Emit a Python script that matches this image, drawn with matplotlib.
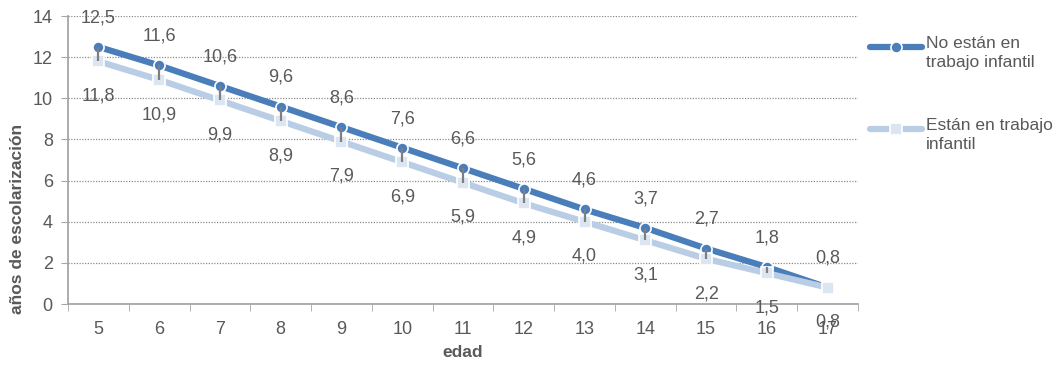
import matplotlib
matplotlib.use("Agg")
import matplotlib.pyplot as plt
from matplotlib.lines import Line2D

# edades y años de escolarización promedio
edades = [5, 6, 7, 8, 9, 10, 11, 12, 13, 14, 15, 16, 17]
no_trabajan = [12.5, 11.6, 10.6, 9.6, 8.6, 7.6, 6.6, 5.6, 4.6, 3.7, 2.7, 1.8, 0.8]
trabajan = [11.8, 10.9, 9.9, 8.9, 7.9, 6.9, 5.9, 4.9, 4.0, 3.1, 2.2, 1.5, 0.8]
y_ticks = [0, 2, 4, 6, 8, 10, 12, 14]

AZUL = "#4a7ebb"
CELESTE = "#b9cde5"
CELESTE_MK = "#dce6f2"
GRIS = "#595959"
EJE = "#a6a6a6"
FS = 13

plt.rcParams["font.family"] = ["Liberation Sans", "DejaVu Sans"]

fig = plt.figure(figsize=(10.58, 3.65), dpi=100)
ax = fig.add_axes([0.0643, 0.167, 0.7467, 0.789])

x = list(range(len(edades)))

ax.plot(x, no_trabajan, color=AZUL, lw=4.5, marker="o", ms=8,
        mfc=AZUL, mec="white", mew=1.2, solid_capstyle="round", zorder=3)
ax.plot(x, trabajan, color=CELESTE, lw=4.5, marker="s", ms=8.5,
        mfc=CELESTE_MK, mec="white", mew=1.2, solid_capstyle="round", zorder=4)
# líneas de máximo y mínimo entre ambas series
ax.vlines(x, trabajan, no_trabajan, color="#7f7f7f", lw=1.6, zorder=5)

for xi, a, b in zip(x, no_trabajan, trabajan):
    ax.annotate(f"{a:.1f}".replace(".", ","), (xi, a), xytext=(0, 21),
                textcoords="offset points", ha="center", va="center",
                fontsize=FS, color=GRIS, zorder=6)
    ax.annotate(f"{b:.1f}".replace(".", ","), (xi, b), xytext=(0, -25),
                textcoords="offset points", ha="center", va="center",
                fontsize=FS, color=GRIS, zorder=6)

ax.set_xlim(-0.5, len(edades) - 0.5)
ax.set_ylim(0, 14)
ax.set_yticks(y_ticks)
ax.set_xticks(x)
ax.set_xticklabels([str(e) for e in edades])
ax.set_xticks([i - 0.5 for i in range(len(edades) + 1)], minor=True)
ax.tick_params(axis="x", which="major", length=0, pad=12, labelsize=FS, labelcolor=GRIS)
ax.tick_params(axis="x", which="minor", length=5, color=EJE, direction="out")
ax.tick_params(axis="y", length=5, color=EJE, labelsize=FS, labelcolor=GRIS, pad=6)

ax.grid(axis="y", color="#8c8c8c", ls=(0, (1, 1.2)), lw=0.9)
ax.set_axisbelow(True)
for s in ("top", "right"):
    ax.spines[s].set_visible(False)
for s in ("left", "bottom"):
    ax.spines[s].set_color(EJE)
    ax.spines[s].set_linewidth(1.3)

ax.set_xlabel("edad", fontsize=12.5, fontweight="bold", color=GRIS, labelpad=5)
fig.text(18 / 1058, 1 - 219 / 365, "años de escolarización", rotation=90,
         ha="center", va="center", fontsize=12.5, fontweight="bold", color=GRIS)

# leyenda a la derecha
def entrada(y, color, mfc, marker, texto):
    fig.add_artist(Line2D([0.8225, 0.8715], [y, y], transform=fig.transFigure,
                          color=color, lw=4.5, solid_capstyle="round"))
    fig.add_artist(Line2D([0.847], [y], transform=fig.transFigure, color=color,
                          marker=marker, ms=8, mfc=mfc, mec="white", mew=1.2, lw=0))
    fig.text(0.8755, y + 0.031, texto, ha="left", va="top", fontsize=12.5,
             color=GRIS, linespacing=1.35, transform=fig.transFigure)

entrada(1 - 47 / 365, AZUL, AZUL, "o", "No están en\ntrabajo infantil")
entrada(1 - 129 / 365, CELESTE, CELESTE_MK, "s", "Están en trabajo\ninfantil")

fig.savefig("out.png", dpi=100, facecolor="white")
